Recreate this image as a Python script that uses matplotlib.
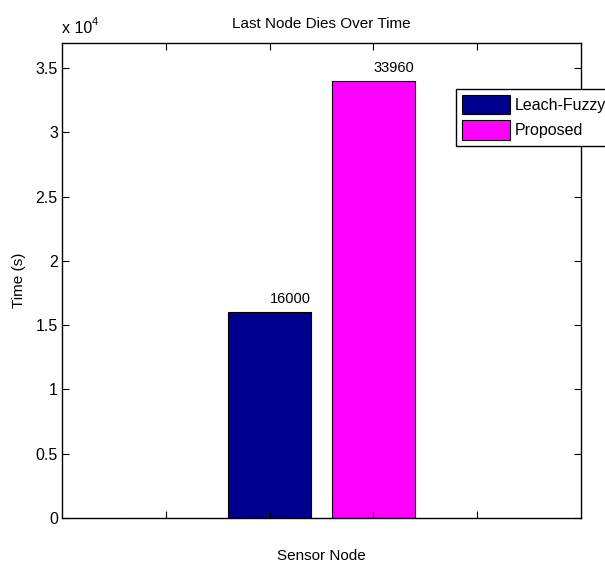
import numpy as np
import matplotlib
matplotlib.use('Agg')
import matplotlib.pyplot as plt

# data
series = ['Leach-Fuzzy', 'Proposed']
times = [16000, 33960]
series_pos = [2, 3]
empty_pos = [1, 4]          # zero-height slots either side
empty_vals = [0, 0]
bar_colors = ['#00008F', '#FF00FF']
yticks = [0, 5000, 10000, 15000, 20000, 25000, 30000, 35000]

plt.rcParams['font.family'] = ['Liberation Sans', 'DejaVu Sans']
plt.rcParams['font.size'] = 11

fig = plt.figure(figsize=(6.05, 5.63), dpi=100)
ax = fig.add_axes([62/605, 1 - 518/563, (581-62)/605, (518-43)/563])

# empty groups show up as a thin grey line on the baseline
ax.bar(empty_pos, empty_vals, width=0.8, color='white', edgecolor='#9a9a9a', linewidth=0.8)

for p, t, c, name in zip(series_pos, times, bar_colors, series):
    ax.bar(p, t, width=0.8, color=c, edgecolor='black', linewidth=0.8, label=name)
    ax.text(p, t + 500, str(t), ha='left', va='bottom', fontsize=10.5)

ax.set_xlim(0, 5)
ax.set_ylim(0, 36950)
ax.set_xticks([1, 2, 3, 4])
ax.set_xticklabels([])
ax.set_yticks(yticks)
ax.set_yticklabels(['%g' % (v / 1e4) for v in yticks], fontsize=11.5)
ax.tick_params(direction='in', length=5, width=0.8, top=True, right=True, pad=3)
for s in ax.spines.values():
    s.set_linewidth(1.0)

ax.set_title('Last Node Dies Over Time', fontsize=11, pad=11)
ax.set_xlabel('Sensor Node', fontsize=11, labelpad=19)
ax.set_ylabel('Time (s)', fontsize=11, labelpad=7)

# scale factor above the y axis
fig.text(62/605, 1 - 33/563, 'x 10', fontsize=11.5, ha='left', va='baseline')
fig.text(92/605, 1 - 25/563, '4', fontsize=8, ha='left', va='baseline')

leg = fig.legend(loc='upper left', bbox_to_anchor=(456/605, 1 - 89/563),
                 fontsize=11.5, frameon=True, fancybox=False, framealpha=1,
                 edgecolor='black', handlelength=3.0, handleheight=1.5,
                 handletextpad=0.3, labelspacing=0.4, borderpad=0.35,
                 borderaxespad=0)
leg.get_frame().set_linewidth(1.0)

fig.savefig('out.png', dpi=100)
